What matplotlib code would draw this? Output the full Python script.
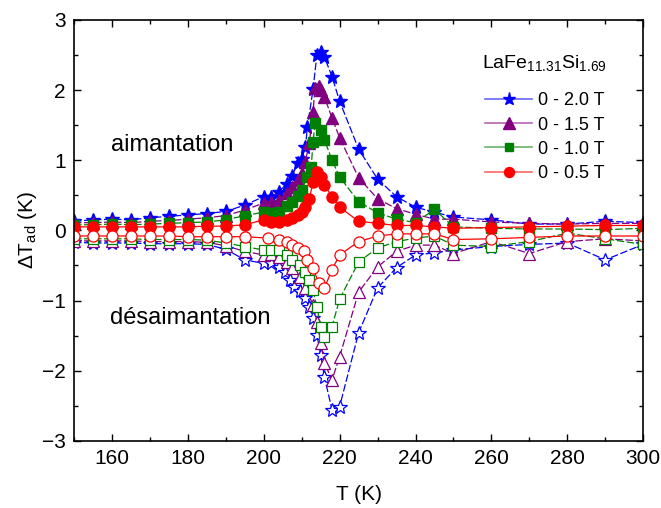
import matplotlib
matplotlib.use("Agg")
import matplotlib.pyplot as plt
from matplotlib.ticker import MultipleLocator
from matplotlib.lines import Line2D

plt.rcParams['font.family'] = ['Liberation Sans', 'DejaVu Sans']
plt.rcParams['mathtext.fontset'] = 'custom'
plt.rcParams['mathtext.rm'] = 'Liberation Sans'
plt.rcParams['mathtext.it'] = 'Liberation Sans:italic'

low_T = [150, 155, 160, 165, 170, 175, 180, 185, 190, 195]

# heating (aimantation), filled markers
T_h20 = low_T + [200, 202, 204, 206, 207.5, 209, 210, 211, 211.5, 213, 214, 215, 216, 218, 220,
                 225, 230, 235, 240, 245, 250, 260, 270, 280, 290, 300]
dT_h20 = [0.13, 0.15, 0.16, 0.15, 0.18, 0.20, 0.22, 0.24, 0.27, 0.36,
          0.48, 0.48, 0.55, 0.66, 0.78, 0.96, 1.02, 1.19, 1.47, 2.01, 2.50, 2.54, 2.47, 2.19, 1.84,
          1.16, 0.73, 0.48, 0.33, 0.26, 0.19, 0.15, 0.09, 0.09, 0.13, 0.11]

T_h15 = low_T + [200, 202, 204, 206, 207.5, 209, 210, 211, 212, 213, 213.5, 214.5, 215, 216, 218, 220,
                 225, 230, 235, 240, 245, 250, 260, 270, 280, 290, 300]
dT_h15 = [0.11, 0.11, 0.12, 0.11, 0.13, 0.14, 0.16, 0.18, 0.21, 0.29,
          0.39, 0.41, 0.43, 0.53, 0.62, 0.72, 0.82, 0.98, 1.25, 1.69, 2.03, 2.05, 2.00, 1.90, 1.60, 1.32,
          0.75, 0.45, 0.31, 0.23, 0.16, 0.16, 0.12, 0.10, 0.09, 0.10, 0.10]

T_h10 = low_T + [200, 202, 204, 206, 207.5, 209, 210, 211.5, 212.5, 213, 213.5, 215, 216, 218, 220,
                 225, 230, 235, 240, 245, 250, 260, 270, 280, 290, 300]
dT_h10 = [0.08, 0.08, 0.09, 0.08, 0.09, 0.10, 0.11, 0.12, 0.15, 0.21,
          0.26, 0.25, 0.26, 0.35, 0.41, 0.49, 0.58, 0.76, 0.90, 1.26, 1.53, 1.43, 1.29, 1.00, 0.76,
          0.41, 0.25, 0.16, 0.11, 0.30, 0.05, 0.03, 0.02, 0.02, 0.01, 0.03]

T_h05 = low_T + [200, 202, 204, 206, 207.5, 209, 210, 211, 212, 213, 214, 215, 216, 218, 220,
                 225, 230, 235, 240, 245, 250, 260, 270, 280, 290, 300]
dT_h05 = [0.05, 0.05, 0.05, 0.05, 0.05, 0.05, 0.05, 0.06, 0.06, 0.08,
          0.15, 0.12, 0.12, 0.15, 0.18, 0.22, 0.26, 0.33, 0.45, 0.69, 0.83, 0.76, 0.65, 0.48, 0.33,
          0.13, 0.10, 0.07, 0.07, 0.05, 0.03, 0.04, 0.05, 0.06, 0.07, 0.07]

# cooling (desaimantation), open markers
T_c20 = low_T + [200, 202, 204, 205.5, 207, 208, 209.5, 211, 212, 213, 214, 215, 216, 218, 220,
                 225, 230, 235, 240, 245, 250, 260, 270, 280, 290, 300]
dT_c20 = [-0.17, -0.18, -0.18, -0.18, -0.19, -0.19, -0.19, -0.20, -0.27, -0.42,
          -0.47, -0.47, -0.52, -0.59, -0.70, -0.80, -0.87, -0.97, -1.09, -1.25, -1.49, -1.77, -2.09, -2.56, -2.51,
          -1.46, -0.82, -0.53, -0.35, -0.32, -0.28, -0.23, -0.20, -0.18, -0.42, -0.20]

T_c15 = low_T + [200, 202, 204, 206, 207.5, 209.5, 211, 213, 214, 215, 216, 218, 220,
                 225, 230, 235, 240, 245, 250, 260, 270, 280, 290, 300]
dT_c15 = [-0.15, -0.15, -0.15, -0.15, -0.16, -0.16, -0.16, -0.17, -0.22, -0.30,
          -0.35, -0.33, -0.38, -0.45, -0.54, -0.66, -0.82, -1.06, -1.30, -1.60, -1.89, -2.13, -1.80,
          -0.88, -0.52, -0.30, -0.21, -0.21, -0.33, -0.16, -0.33, -0.16, -0.12, -0.15]

T_c10 = low_T + [200, 202, 204, 206, 207.5, 209.5, 211, 212, 213, 214, 215, 216, 218, 220,
                 225, 230, 235, 240, 245, 250, 260, 270, 280, 290, 300]
dT_c10 = [-0.12, -0.12, -0.12, -0.12, -0.13, -0.13, -0.13, -0.14, -0.18, -0.23,
          -0.28, -0.28, -0.28, -0.35, -0.42, -0.49, -0.59, -0.71, -0.85, -1.09, -1.37, -1.52, -1.37, -0.98,
          -0.45, -0.25, -0.16, -0.11, -0.08, -0.21, -0.23, -0.16, -0.04, -0.12, -0.20]

T_c05 = low_T + [201, 204, 206, 207.5, 209, 210.5, 211.5, 213, 214.5, 216, 218, 220,
                 225, 230, 235, 240, 245, 250, 260, 270, 280, 290, 300]
dT_c05 = [-0.08, -0.08, -0.08, -0.08, -0.08, -0.08, -0.09, -0.09, -0.09, -0.09,
          -0.11, -0.13, -0.16, -0.21, -0.25, -0.30, -0.42, -0.54, -0.75, -0.82, -0.56, -0.35,
          -0.16, -0.08, -0.05, -0.05, -0.05, -0.13, -0.12, -0.10, -0.08, -0.08, -0.08]

labels = ['0 - 2.0 T', '0 - 1.5 T', '0 - 1.0 T', '0 - 0.5 T']
colors = ['#0000ff', '#800080', '#008000', '#ff0000']
markers = ['*', '^', 's', 'o']
msizes = [10.5, 9, 7, 8]
dashes = [(0, (6, 2)), (0, (6, 2)), (0, (6, 2)), '-']

heat = [(T_h20, dT_h20), (T_h15, dT_h15), (T_h10, dT_h10), (T_h05, dT_h05)]
cool = [(T_c20, dT_c20), (T_c15, dT_c15), (T_c10, dT_c10), (T_c05, dT_c05)]

fig = plt.figure(figsize=(6.61, 5.08), dpi=100)
ax = fig.add_axes([0.112, 0.132, 0.861, 0.829])

handles = []
for i in range(4):
    T, d = heat[i]
    ax.plot(T, d, color=colors[i], ls=dashes[i], lw=0.9, marker=markers[i],
            ms=msizes[i], mfc=colors[i], mec=colors[i])
    T, d = cool[i]
    ax.plot(T, d, color=colors[i], ls=dashes[i], lw=0.9, marker=markers[i],
            ms=msizes[i], mfc='white', mec=colors[i], mew=0.9)
    # legend: lighter solid line + full-colour marker
    ln = Line2D([], [], color=colors[i], alpha=0.6, lw=1.2)
    mk = Line2D([], [], ls='none', marker=markers[i], ms=msizes[i] * 0.9,
                mfc=colors[i], mec=colors[i])
    handles.append((ln, mk))

ax.text(176, 1.22, 'aimantation', fontsize=17, ha='center', va='center')
ax.text(180.5, -1.25, 'désaimantation', fontsize=17, ha='center', va='center')

ax.set_xlim(150, 300)
ax.set_ylim(-3, 3)
ax.xaxis.set_major_locator(MultipleLocator(20))
ax.xaxis.set_minor_locator(MultipleLocator(10))
ax.yaxis.set_major_locator(MultipleLocator(1))
ax.yaxis.set_minor_locator(MultipleLocator(0.5))
ax.tick_params(which='both', direction='in', top=True, right=True, labelsize=15)
ax.tick_params(which='major', length=5, width=1, pad=6)
ax.tick_params(which='minor', length=3, width=1)
for s in ax.spines.values():
    s.set_linewidth(1.2)

ax.set_xlabel('T (K)', fontsize=15, labelpad=12)
ax.set_ylabel(r'$\Delta$T$_{\mathrm{ad}}$ (K)', fontsize=15, labelpad=2)

leg = ax.legend(handles, labels, loc='upper right', bbox_to_anchor=(0.965, 0.96), frameon=False, fontsize=13,
                title=r'LaFe$_{11.31}$Si$_{1.69}$', title_fontsize=14,
                handlelength=2.6, handletextpad=0.3, labelspacing=0.4)
leg._legend_box.sep = 14

fig.savefig('out.png', dpi=100)
